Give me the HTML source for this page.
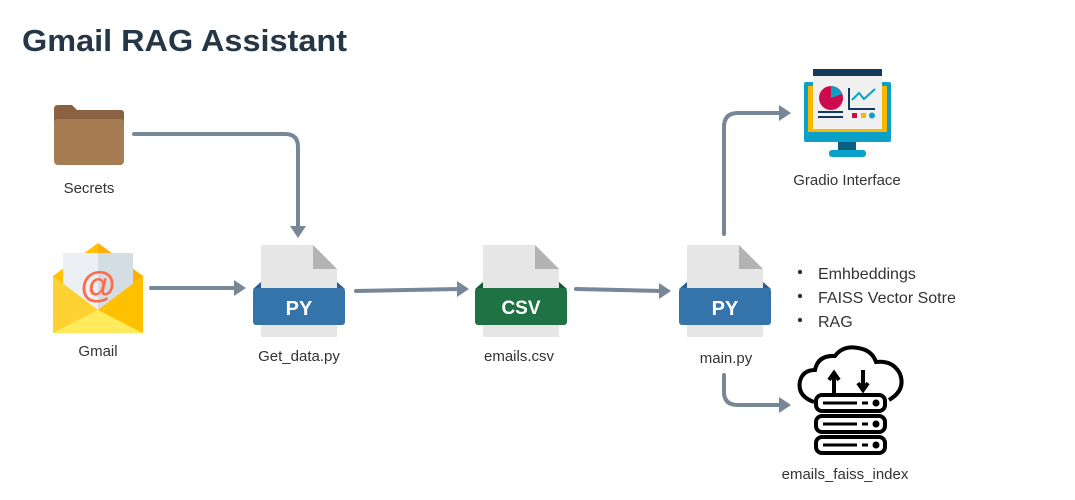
<!DOCTYPE html>
<html><head><meta charset="utf-8"><style>
html,body{margin:0;padding:0;background:#fff;width:1075px;height:500px;overflow:hidden}
text{font-family:"Liberation Sans",sans-serif}
</style></head><body>
<svg width="1075" height="500" viewBox="0 0 1075 500" xmlns="http://www.w3.org/2000/svg">
<text x="22" y="51" font-size="31" font-weight="bold" fill="#253746" textLength="325" lengthAdjust="spacingAndGlyphs">Gmail RAG Assistant</text>

<g fill="none" stroke="#778797" stroke-width="4" stroke-linecap="round">
<path d="M134 134 H285 Q298 134 298 147 V226"/>
<path d="M151 288 H236"/>
<path d="M356 291 L460 289"/>
<path d="M576 289 L662 291"/>
<path d="M724 234 V127 Q724 113 738 113 H780"/>
<path d="M724 375 V392 Q724 405 738 405 H780"/>
</g>
<g fill="#778797">
<path d="M290 226 L306 226 L298 238 Z"/>
<path d="M234 280 L246 288 L234 296 Z"/>
<path d="M457 281 L469 289 L457 297 Z"/>
<path d="M659 283 L671 291 L659 299 Z"/>
<path d="M779 105 L791 113 L779 121 Z"/>
<path d="M779 397 L791 405 L779 413 Z"/>
</g>

<!-- folder -->
<path d="M54 109 Q54 105 58 105 H72 L77 110 H121 Q124 110 124 114 V130 H54 Z" fill="#8a6241"/>
<rect x="54" y="119" width="70" height="46" rx="4" fill="#a67c52"/>
<text x="89" y="193" font-size="15" fill="#333" text-anchor="middle">Secrets</text>

<!-- gmail -->
<path d="M53 276 L98 243 L143 276 V333 H53 Z" fill="#ffc107"/>
<path d="M98 243 L143 276 V333 H98 Z" fill="#ff9f00" opacity="0.5"/>
<rect x="63" y="253" width="70" height="60" fill="#eceff3"/>
<rect x="98" y="253" width="35" height="60" fill="#d2dde4"/>
<text x="98" y="297" font-size="36" font-weight="bold" fill="#ff6b4a" text-anchor="middle">@</text>
<path d="M53 276 L98 310 L143 276 V333 H53 Z" fill="#ffd233"/>
<path d="M53 333 L98 310 L143 333 Z" fill="#ffeb5b"/>
<path d="M98 310 L143 276 V333 Z" fill="#ffc000"/>
<text x="98" y="356" font-size="15" fill="#333" text-anchor="middle">Gmail</text>

<!-- file icons -->
<path d="M261 245 H313 L337 269 V337 H261 Z" fill="#e6e6e6"/>
<path d="M313 245 V269 H337 Z" fill="#b3b3b3"/>
<path d="M253 289 L261 282 V289 Z M345 289 L337 282 V289Z" fill="#2a5f8f"/>
<rect x="253" y="288" width="92" height="37" rx="3" fill="#3474ab"/>
<text x="299" y="315" font-size="20" font-weight="bold" fill="#fff" text-anchor="middle">PY</text>
<text x="299" y="361" font-size="15" fill="#333" text-anchor="middle">Get_data.py</text>

<path d="M483 245 H535 L559 269 V337 H483 Z" fill="#e6e6e6"/>
<path d="M535 245 V269 H559 Z" fill="#b3b3b3"/>
<path d="M475 289 L483 282 V289 Z M567 289 L559 282 V289Z" fill="#155a32"/>
<rect x="475" y="288" width="92" height="37" rx="3" fill="#1f7244"/>
<text x="521" y="314" font-size="19" font-weight="bold" fill="#fff" text-anchor="middle">CSV</text>
<text x="519" y="361" font-size="15" fill="#333" text-anchor="middle">emails.csv</text>

<path d="M687 245 H739 L763 269 V337 H687 Z" fill="#e6e6e6"/>
<path d="M739 245 V269 H763 Z" fill="#b3b3b3"/>
<path d="M679 289 L687 282 V289 Z M771 289 L763 282 V289Z" fill="#2a5f8f"/>
<rect x="679" y="288" width="92" height="37" rx="3" fill="#3474ab"/>
<text x="725" y="315" font-size="20" font-weight="bold" fill="#fff" text-anchor="middle">PY</text>
<text x="726" y="363" font-size="15" fill="#333" text-anchor="middle">main.py</text>

<!-- bullets -->
<g font-size="16" fill="#333">
<circle cx="800" cy="272" r="2.2"/><text x="818" y="279">Emhbeddings</text>
<circle cx="800" cy="296" r="2.2"/><text x="818" y="303">FAISS Vector Sotre</text>
<circle cx="800" cy="320" r="2.2"/><text x="818" y="327">RAG</text>
</g>

<!-- monitor -->
<rect x="804" y="82" width="87" height="60" rx="2" fill="#0aa0c8"/>
<rect x="808" y="86" width="79" height="46" fill="#f9b800"/>
<rect x="813" y="69" width="69" height="7" fill="#153a59"/>
<rect x="813" y="76" width="69" height="53" fill="#f0f0f0"/>
<circle cx="831" cy="98" r="12" fill="#cc0a4e"/>
<path d="M831 98 L831 86 A12 12 0 0 1 842 94 Z" fill="#0aa0c8"/>
<path d="M849 88 V109 H875" stroke="#153a59" stroke-width="2" fill="none"/>
<path d="M852 100 L859 93 L864 99 L875 89" stroke="#0aa0c8" stroke-width="2" fill="none"/>
<rect x="852" y="113" width="5" height="5" fill="#cc0a4e"/><rect x="861" y="113" width="5" height="5" fill="#f9b800"/><circle cx="872" cy="115.5" r="3" fill="#0aa0c8"/>
<rect x="818" y="111" width="25" height="2" fill="#153a59"/><rect x="818" y="116" width="25" height="2" fill="#153a59"/>
<rect x="838" y="142" width="18" height="8" fill="#0d5f80"/>
<rect x="829" y="150" width="37" height="7" rx="3" fill="#0aa0c8"/>
<text x="847" y="185" font-size="15" fill="#333" text-anchor="middle">Gradio Interface</text>

<!-- cloud server -->
<g fill="none" stroke="#000" stroke-width="4">
<path d="M814 402 Q797 396 800 381 Q803 370 815 370 Q818 355 835 356 Q843 345 858 348 Q872 350 876 362 Q893 360 900 374 Q906 390 889 400"/>
<path d="M834 393 V374 M829 380 L834 373 L839 380"/>
<path d="M863 370 V389 M858 383 L863 390 L868 383"/>
<rect x="816" y="395" width="69" height="16" rx="6"/>
<rect x="816" y="416" width="69" height="16" rx="6"/>
<rect x="816" y="437" width="69" height="16" rx="6"/>
</g>
<g stroke="#000" stroke-width="3"><path d="M823 403 H857 M862 403 H868 M823 424 H857 M862 424 H868 M823 445 H857 M862 445 H868"/></g>
<g fill="#000"><circle cx="876" cy="403" r="3.5"/><circle cx="876" cy="424" r="3.5"/><circle cx="876" cy="445" r="3.5"/></g>
<text x="845" y="479" font-size="15" fill="#333" text-anchor="middle">emails_faiss_index</text>
</svg>
</body></html>
